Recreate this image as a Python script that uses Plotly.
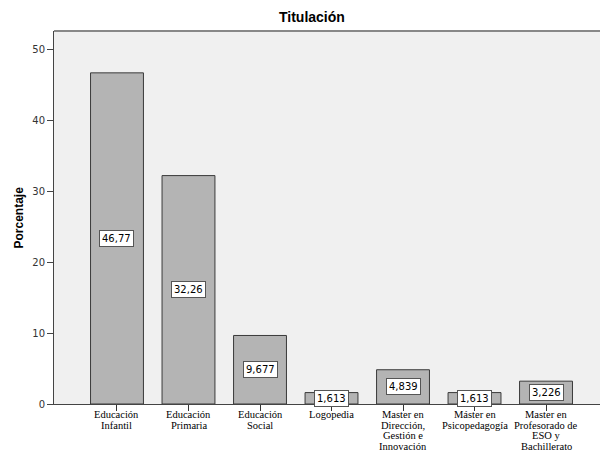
import plotly.graph_objects as go

categories = ["Educación<br>Infantil", "Educación<br>Primaria", "Educación<br>Social",
              "Logopedia", "Master en<br>Dirección,<br>Gestión e<br>Innovación",
              "Máster en<br>Psicopedagogía", "Master en<br>Profesorado de<br>ESO y<br>Bachillerato"]
values = [46.77, 32.26, 9.677, 1.613, 4.839, 1.613, 3.226]
value_labels = ["46,77", "32,26", "9,677", "1,613", "4,839", "1,613", "3,226"]
yticks = [0, 10, 20, 30, 40, 50]

xs = list(range(len(categories)))

fig = go.Figure()
fig.add_trace(go.Bar(
    x=xs, y=values, width=0.74,
    marker=dict(color="#b4b4b4", line=dict(color="#3a3a3a", width=1)),
    hoverinfo="skip",
))

for x, v, lab in zip(xs, values, value_labels):
    fig.add_annotation(
        x=x, y=v / 2, xref="x", yref="y", text=lab, showarrow=False,
        font=dict(family="DejaVu Sans", size=10, color="#000"),
        bgcolor="white", bordercolor="#555", borderwidth=1, borderpad=2,
    )

# category labels, one line per annotation for tight line spacing
for x, cat in zip(xs, categories):
    for i, line in enumerate(cat.split("<br>")):
        fig.add_annotation(
            x=x, y=0, xref="x", yref="paper", yanchor="middle",
            yshift=-(10.5 + 10.5 * i), text=line, showarrow=False,
            font=dict(family="Liberation Serif", size=10.5, color="#000"),
        )

fig.add_annotation(
    x=(312 - 54) / 546, y=1, xref="paper", yref="paper", yanchor="bottom",
    yshift=4, text="<b>Titulación</b>", showarrow=False,
    font=dict(family="Liberation Sans", size=14, color="#000"),
)
fig.add_annotation(
    x=(18 - 54) / 546, y=0.5, xref="paper", yref="paper", textangle=-90,
    xanchor="center", text="<b>Porcentaje</b>", showarrow=False,
    font=dict(family="Liberation Sans", size=12, color="#000"),
)

fig.update_layout(
    width=600, height=451,
    margin=dict(l=54, r=0, t=31, b=47, autoexpand=False),
    paper_bgcolor="white", plot_bgcolor="#f0f0f0",
    showlegend=False,
    xaxis=dict(
        range=[-0.881, 6.755], tickmode="array", tickvals=xs,
        ticktext=[""] * len(xs), automargin=False,
        ticks="outside", ticklen=6, tickcolor="#333", tickwidth=1,
        showgrid=False, zeroline=False, showline=True, linecolor="#444", linewidth=1,
        fixedrange=True,
    ),
    yaxis=dict(
        range=[0, 52.68], tickmode="array", tickvals=yticks, automargin=False,
        ticks="outside", ticklen=6, tickcolor="#444", tickwidth=1,
        showgrid=False, zeroline=False, showline=True, linecolor="#444", linewidth=1,
        tickfont=dict(family="DejaVu Sans", size=10, color="#333"),
        fixedrange=True,
    ),
    shapes=[dict(type="line", xref="paper", yref="paper", x0=0, x1=1, y0=1, y1=1,
                 line=dict(color="#888", width=2))],
)

fig.write_html("out.html", config={"displayModeBar": False},
               post_script="document.body.style.margin='0';document.body.style.padding='0';")
